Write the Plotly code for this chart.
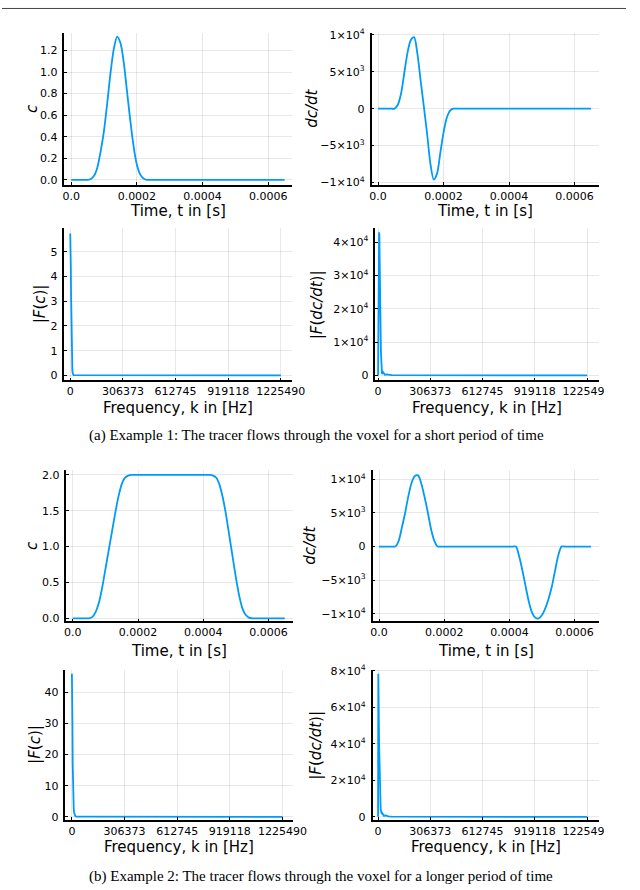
import plotly.graph_objects as go

# ---------------- data ----------------
# Example 1: short passage
t1 = [0, 4e-5, 5e-5, 6e-5, 7e-5, 8e-5, 9e-5, 10e-5, 11e-5, 12e-5, 13e-5, 14e-5, 15e-5,
      16e-5, 17e-5, 18e-5, 19e-5, 20e-5, 21e-5, 22e-5, 23e-5, 24e-5, 65e-5]
c1 = [0, 0, 0, 0.008, 0.04, 0.12, 0.27, 0.46, 0.72, 1.00, 1.22, 1.33, 1.27,
      1.09, 0.82, 0.55, 0.31, 0.14, 0.05, 0.012, 0, 0, 0]

t2 = [0, 4e-5, 5e-5, 6e-5, 7e-5, 8e-5, 9e-5, 10e-5, 11e-5, 12e-5, 13e-5, 14e-5, 15e-5,
      16e-5, 17e-5, 18e-5, 19e-5, 20e-5, 21e-5, 22e-5, 23e-5, 24e-5, 65e-5]
dc2 = [0, 0, 0, 500, 2000, 4800, 7600, 9300, 9700, 7500, 3800, 200, -3500,
       -7500, -9600, -8800, -6000, -3200, -1200, -250, 0, 0, 0]

f3 = [0, 1538, 3076, 4614, 6152, 7690, 9228, 10766, 12304, 13842, 15380, 20000, 1225490]
Fc3 = [5.75, 5.4, 4.5, 3.4, 2.3, 1.4, 0.8, 0.4, 0.2, 0.1, 0.05, 0.01, 0]

f4 = [0, 1538, 3076, 4614, 6152, 7690, 9228, 10766, 12304, 13842, 15380, 16918, 18456,
      20000, 23000, 26000, 29000, 32000, 35000, 40000, 50000, 60000, 80000, 1225490]
Fdc4 = [0, 20000, 33000, 40000, 42900, 42000, 38000, 32000, 25000, 18000, 12000, 7000, 3500,
        1200, 400, 700, 1000, 800, 400, 200, 300, 150, 50, 0]

# Example 2: longer passage
t5 = [0, 4e-5, 5e-5, 6e-5, 7e-5, 8e-5, 9e-5, 10e-5, 11e-5, 12e-5, 13e-5, 14e-5, 15e-5,
      16e-5, 17e-5, 18e-5, 19e-5, 41e-5, 42e-5, 43e-5, 44e-5, 45e-5, 46e-5, 47e-5,
      48e-5, 49e-5, 50e-5, 51e-5, 52e-5, 53e-5, 54e-5, 55e-5, 56e-5, 65e-5]
c5 = [0, 0, 0, 0.02, 0.09, 0.22, 0.43, 0.69, 0.95, 1.21, 1.47, 1.70, 1.87,
      1.96, 1.99, 2.0, 2.0, 2.0, 2.0, 1.99, 1.96, 1.86, 1.68, 1.44,
      1.15, 0.86, 0.57, 0.32, 0.14, 0.05, 0.01, 0, 0, 0]

t6 = [0, 4e-5, 5e-5, 6e-5, 7e-5, 8e-5, 9e-5, 10e-5, 11e-5, 12e-5, 13e-5, 14e-5, 15e-5,
      16e-5, 17e-5, 18e-5, 19e-5, 41e-5, 42e-5, 43e-5, 44e-5, 45e-5, 46e-5, 47e-5,
      48e-5, 49e-5, 50e-5, 51e-5, 52e-5, 53e-5, 54e-5, 55e-5, 56e-5, 57e-5, 65e-5]
dc6 = [0, 0, 0, 800, 2800, 5000, 7500, 9500, 10500, 10600, 9300, 7300, 5000,
       2500, 800, 0, 0, 0, 0, -1500, -3600, -6000, -8300, -9900,
       -10600, -10700, -10200, -9200, -7800, -6000, -3600, -1300, 0, 0, 0]

f7 = [0, 1538, 3076, 4614, 6152, 7690, 9228, 10766, 12304, 15380, 20000, 25000, 1225490]
Fc7 = [46, 42, 30, 17, 8, 5, 3.5, 2.5, 1.5, 0.7, 0.2, 0.05, 0]

f8 = [0, 1538, 3076, 4614, 6152, 7690, 9228, 10766, 12304, 15380, 18456, 21534, 25000,
      30000, 35000, 45000, 60000, 80000, 1225490]
Fdc8 = [0, 78500, 70000, 52000, 40000, 30000, 18000, 10000, 6000, 4000, 3000, 1500, 2000,
        1000, 500, 800, 300, 100, 0]

# tick labels
time_ticks = [0, 2e-4, 4e-4, 6e-4]
time_text = ["0.0", "0.0002", "0.0004", "0.0006"]
freq_ticks = [0, 306373, 612745, 919118, 1225490]
freq_text = ["0", "306373", "612745", "919118", "1225490"]
freq_text_clip = ["0", "306373", "612745", "919118", "122549\u2007"]
c1_ticks = [0, 0.2, 0.4, 0.6, 0.8, 1.0, 1.2]
c1_text = ["0.0", "0.2", "0.4", "0.6", "0.8", "1.0", "1.2"]
dc_ticks = [-1e4, -5e3, 0, 5e3, 1e4]
dc_text = ["\u22121\u00d710<sup>4</sup>", "\u22125\u00d710<sup>3</sup>", "0",
           "5\u00d710<sup>3</sup>", "1\u00d710<sup>4</sup>"]
fc3_ticks = [0, 1, 2, 3, 4, 5]
fdc4_ticks = [0, 1e4, 2e4, 3e4, 4e4]
fdc4_text = ["0", "1\u00d710<sup>4</sup>", "2\u00d710<sup>4</sup>", "3\u00d710<sup>4</sup>",
             "4\u00d710<sup>4</sup>"]
c5_ticks = [0, 0.5, 1.0, 1.5, 2.0]
c5_text = ["0.0", "0.5", "1.0", "1.5", "2.0"]
fc7_ticks = [0, 10, 20, 30, 40]
fdc8_ticks = [0, 2e4, 4e4, 6e4, 8e4]
fdc8_text = ["0", "2\u00d710<sup>4</sup>", "4\u00d710<sup>4</sup>", "6\u00d710<sup>4</sup>",
             "8\u00d710<sup>4</sup>"]

xlabel_time = "Time, t in [s]"
xlabel_freq = "Frequency, k in [Hz]"
caption_a = "(a) Example 1: The tracer flows through the voxel for a short period of time"
caption_b = "(b) Example 2: The tracer flows through the voxel for a longer period of time"

# ---------------- layout helpers ----------------
W, H = 640, 890
BLUE = "#009AFA"
SANS = "DejaVu Sans"

panels = [
    dict(x=t1, y=c1, box=(64, 297, 27, 181), xr=(-2.08e-5, 6.713e-4), yr=(-0.046, 1.366),
         xt=(time_ticks, time_text), yt=(c1_ticks, c1_text), spline=True,
         xl=(xlabel_time, 208), yl=("<i>c</i>", 30)),
    dict(x=t2, y=dc2, box=(379, 612, 27, 181), xr=(-1.99e-5, 6.735e-4), yr=(-10308, 10300),
         xt=(time_ticks, time_text), yt=(dc_ticks, dc_text), spline=True,
         xl=(xlabel_time, 208), yl=("<i>dc/dt</i>", 318)),
    dict(x=f3, y=Fc3, box=(64, 297, 225, 379), xr=(-34041, 1287900), yr=(-0.2, 5.96),
         xt=(freq_ticks, freq_text), yt=(fc3_ticks, [str(v) for v in fc3_ticks]), spline=False,
         xl=(xlabel_freq, 407), yl=("|<i>F</i>(<i>c</i>)|", 39)),
    dict(x=f4, y=Fdc4, box=(383, 612, 225, 379), xr=(-15430, 1293500), yr=(-1481, 44148),
         xt=(freq_ticks, freq_text_clip), yt=(fdc4_ticks, fdc4_text), spline=False,
         xl=(xlabel_freq, 407), yl=("|<i>F</i>(<i>dc/dt</i>)|", 323)),
    dict(x=t5, y=c5, box=(66, 298, 470, 623), xr=(-2.0e-5, 6.739e-4), yr=(-0.041, 2.065),
         xt=(time_ticks, time_text), yt=(c5_ticks, c5_text), spline=True,
         xl=(xlabel_time, 653), yl=("<i>c</i>", 30)),
    dict(x=t6, y=dc6, box=(380, 612, 470, 623), xr=(-2.0e-5, 6.739e-4), yr=(-11132, 11368),
         xt=(time_ticks, time_text), yt=(dc_ticks, dc_text), spline=True,
         xl=(xlabel_time, 653), yl=("<i>dc/dt</i>", 316)),
    dict(x=f7, y=Fc7, box=(65, 298, 672, 824), xr=(-38000, 1284000), yr=(-0.95, 47.3),
         xt=(freq_ticks, freq_text), yt=(fc7_ticks, [str(v) for v in fc7_ticks]), spline=False,
         xl=(xlabel_freq, 852), yl=("|<i>F</i>(<i>c</i>)|", 34)),
    dict(x=f8, y=Fdc8, box=(380, 612, 672, 824), xr=(-32600, 1293500), yr=(-1625, 80700),
         xt=(freq_ticks, freq_text_clip), yt=(fdc8_ticks, fdc8_text), spline=False,
         xl=(xlabel_freq, 852), yl=("|<i>F</i>(<i>dc/dt</i>)|", 322)),
]

fig = go.Figure()
layout = dict(width=W, height=H, autosize=False, margin=dict(l=0, r=0, t=0, b=0),
              paper_bgcolor="white", plot_bgcolor="white", showlegend=False,
              font=dict(family=SANS, color="black"))
annotations = []

for i, p in enumerate(panels, start=1):
    x0, x1, y0, y1 = p["box"]
    sfx = "" if i == 1 else str(i)
    fig.add_trace(go.Scatter(
        x=p["x"], y=p["y"], mode="lines",
        line=dict(color=BLUE, width=1.8, shape="spline" if p["spline"] else "linear",
                  smoothing=0.8),
        xaxis="x" + sfx, yaxis="y" + sfx, hoverinfo="skip"))
    common = dict(showline=True, linecolor="black", linewidth=1.5, mirror=False,
                  showgrid=True, gridcolor="rgba(0,0,0,0.09)", gridwidth=1,
                  zeroline=False, ticks="inside", ticklen=3, tickcolor="black",
                  tickwidth=1, tickfont=dict(family=SANS, size=11, color="black"),
                  tickmode="array", fixedrange=True)
    layout["xaxis" + sfx] = dict(common, domain=[x0 / W, x1 / W], range=list(p["xr"]),
                                 tickvals=p["xt"][0], ticktext=p["xt"][1],
                                 anchor="y" + sfx, ticklabelstandoff=0)
    layout["yaxis" + sfx] = dict(common, domain=[1 - y1 / H, 1 - y0 / H], range=list(p["yr"]),
                                 tickvals=p["yt"][0], ticktext=p["yt"][1],
                                 anchor="x" + sfx, ticklabelstandoff=3)
    # x-axis title
    annotations.append(dict(text=p["xl"][0], xref="paper", yref="paper",
                            x=(x0 + x1) / 2 / W, y=1 - p["xl"][1] / H,
                            xanchor="center", yanchor="middle", showarrow=False,
                            font=dict(family=SANS, size=15, color="black")))
    # y-axis title
    annotations.append(dict(text=p["yl"][0], xref="paper", yref="paper",
                            x=p["yl"][1] / W, y=1 - (y0 + y1) / 2 / H,
                            xanchor="center", yanchor="middle", showarrow=False,
                            textangle=-90,
                            font=dict(family=SANS, size=15, color="black")))

for text, yc in [(caption_a, 435), (caption_b, 881)]:
    annotations.append(dict(text=text, xref="paper", yref="paper", x=87 / W, y=1 - yc / H,
                            xanchor="left", yanchor="middle", showarrow=False,
                            font=dict(family="Liberation Serif", size=15, color="black")))

layout["annotations"] = annotations
layout["shapes"] = [dict(type="line", xref="paper", yref="paper", x0=0, x1=1,
                         y0=1 - 2.5 / H, y1=1 - 2.5 / H,
                         line=dict(color="#444444", width=1))]

fig.update_layout(**layout)

pin_script = (
    "document.documentElement.style.margin='0';"
    "document.documentElement.style.overflow='hidden';"
    "document.body.style.margin='0';document.body.style.padding='0';"
    "document.body.style.overflow='hidden';"
    "var gd=document.getElementById('{plot_id}');"
    "gd.style.position='fixed';gd.style.left='0px';gd.style.top='0px';"
)
fig.write_html("out.html", config={"displayModeBar": False}, post_script=pin_script)
